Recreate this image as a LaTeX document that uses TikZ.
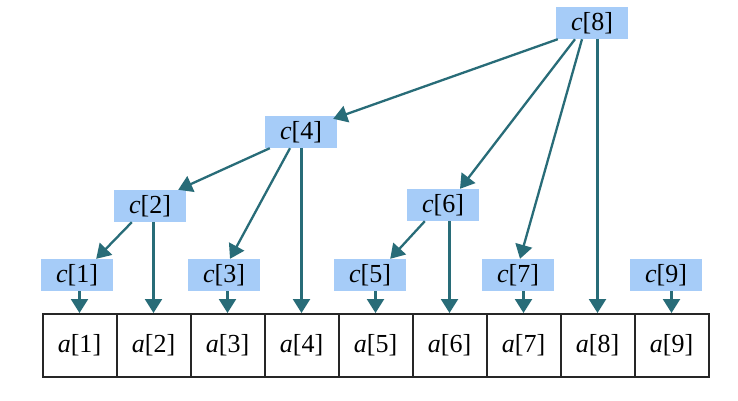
\documentclass[tikz,border=0pt]{standalone}
\usepackage{fontspec}
\setmainfont{Liberation Serif}
\usetikzlibrary{arrows.meta}
\definecolor{boxblue}{RGB}{166,204,248}
\definecolor{linkteal}{RGB}{40,108,120}
\begin{document}
\begin{tikzpicture}[x=1pt,y=-1pt,
  cbox/.style={fill=boxblue,minimum width=72pt,minimum height=32pt,inner sep=0pt,font=\fontsize{26}{28}\selectfont},
  cell/.style={draw=black!85,line width=2pt,minimum width=74pt,minimum height=63pt,inner sep=0pt,font=\fontsize{26}{28}\selectfont},
  link/.style={draw=linkteal,line width=2.3pt,-{Triangle[length=14pt,width=17pt]}}]
\useasboundingbox (0,0) rectangle (738,400);
\fill[white] (0,0) rectangle (738,400);
% array cells
\foreach \i/\x in {1/79.5,2/153.5,3/227.5,4/301.5,5/375.5,6/449.5,7/523.5,8/597.5,9/671.5}{
  \node[cell] (a\i) at (\x,345.5) {\textit{a}[\i]};
}
% c boxes
\node[cbox] (c1) at (77,275) {\textit{c}[1]};
\node[cbox] (c2) at (150,206) {\textit{c}[2]};
\node[cbox] (c3) at (224,275) {\textit{c}[3]};
\node[cbox] (c4) at (301,132) {\textit{c}[4]};
\node[cbox] (c5) at (370,275) {\textit{c}[5]};
\node[cbox] (c6) at (443,205) {\textit{c}[6]};
\node[cbox] (c7) at (518,275) {\textit{c}[7]};
\node[cbox] (c8) at (592,23) {\textit{c}[8]};
\node[cbox] (c9) at (666,275) {\textit{c}[9]};
% vertical arrows to array
\foreach \i in {1,2,3,4,5,6,7,8,9}{
  \draw[link] (c\i.south -| a\i.north) -- (a\i.north);
}
% tree arrows
\draw[link] ([xshift=2pt]c8.south west) -- ([xshift=-4pt,yshift=-3pt]c4.north east);
\draw[link] ([xshift=-17pt]c8.south) -- ([xshift=17pt]c6.north);
\draw[link] ([xshift=-10pt]c8.south) -- ([xshift=2pt]c7.north);
\draw[link] ([xshift=5pt]c4.south west) -- ([xshift=-8pt]c2.north east);
\draw[link] ([xshift=-11pt]c4.south) -- ([xshift=6pt]c3.north);
\draw[link] ([xshift=18pt]c2.south west) -- ([xshift=-17pt]c1.north east);
\draw[link] ([xshift=18pt]c6.south west) -- ([xshift=-16pt]c5.north east);
\end{tikzpicture}
\end{document}
